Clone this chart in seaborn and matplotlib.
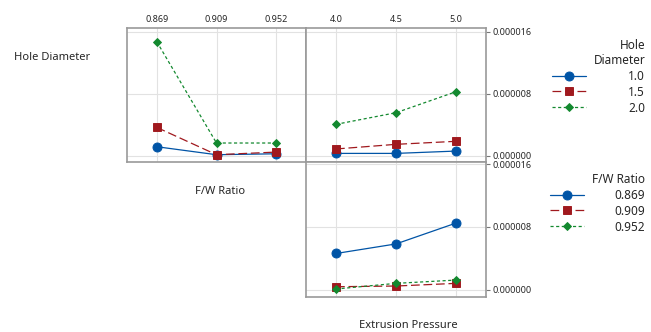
import numpy as np
import pandas as pd
import matplotlib
matplotlib.use("Agg")
import matplotlib.pyplot as plt
import seaborn as sns
from matplotlib.ticker import FixedLocator, FormatStrFormatter

# factor levels
fw_levels = ["0.869", "0.909", "0.952"]
pressure_levels = ["4.0", "4.5", "5.0"]
hole_levels = ["1.0", "1.5", "2.0"]

# fitted means (x 1e-6), rows follow the trace factor levels
hole_by_fw = [[1.16, 0.13, 0.25],
              [3.65, 0.13, 0.47],
              [14.7, 1.64, 1.64]]
hole_by_pressure = [[0.30, 0.30, 0.60],
                    [0.87, 1.47, 1.86],
                    [4.05, 5.55, 8.26]]
fw_by_pressure = [[4.62, 5.84, 8.50],
                  [0.38, 0.47, 0.81],
                  [0.09, 0.81, 1.23]]
y_ticks = [0.0, 8e-6, 16e-6]

colors = ["#0054A6", "#A0191E", "#13892F"]
markers = ["o", "s", "D"]
dashes = [None, (7, 3), (2.5, 2)]
msizes = [6.5, 6.0, 4.5]


def to_long(values, trace_levels, x_levels, trace_name, x_name):
    rows = []
    for lev, vals in zip(trace_levels, values):
        for xl, v in zip(x_levels, vals):
            rows.append({trace_name: lev, x_name: xl, "Mean": v * 1e-6})
    return pd.DataFrame(rows)


def draw(ax, df, x_name, trace_name, trace_levels, x_levels):
    sns.pointplot(data=df, x=x_name, y="Mean", hue=trace_name, order=x_levels,
                  hue_order=trace_levels, palette=colors, markers=markers,
                  errorbar=None, legend=False, ax=ax, linewidth=0.9)
    for i, line in enumerate(ax.lines[:3]):
        if dashes[i] is not None:
            line.set_dashes(dashes[i])
        line.set_markersize(msizes[i])
    ax.set_xlim(-0.5, 2.5)
    ax.set_xlabel("")
    ax.set_ylabel("")
    ax.yaxis.set_major_locator(FixedLocator(y_ticks))
    ax.grid(True, color="#e2e2e2", linewidth=0.8)
    ax.set_axisbelow(True)
    for s in ax.spines.values():
        s.set_color("#9a9a9a")
        s.set_linewidth(1.2)
    return ax.lines[:3]


sns.set_style("white")
plt.rcParams["font.family"] = ["Noto Sans", "DejaVu Sans"]

fig = plt.figure(figsize=(6.51, 3.32), dpi=100)
ax_tl = fig.add_axes([127 / 651, 1 - 162 / 332, 179 / 651, 134 / 332])
ax_tr = fig.add_axes([306 / 651, 1 - 162 / 332, 180 / 651, 134 / 332])
ax_br = fig.add_axes([306 / 651, 1 - 297 / 332, 180 / 651, 135 / 332])

h1 = draw(ax_tl, to_long(hole_by_fw, hole_levels, fw_levels, "Hole Diameter", "F/W Ratio"),
          "F/W Ratio", "Hole Diameter", hole_levels, fw_levels)
draw(ax_tr, to_long(hole_by_pressure, hole_levels, pressure_levels, "Hole Diameter", "Extrusion Pressure"),
     "Extrusion Pressure", "Hole Diameter", hole_levels, pressure_levels)
h2 = draw(ax_br, to_long(fw_by_pressure, fw_levels, pressure_levels, "F/W Ratio", "Extrusion Pressure"),
          "Extrusion Pressure", "F/W Ratio", fw_levels, pressure_levels)

for ax in (ax_tl, ax_tr):
    ax.set_ylim(-0.81e-6, 16.48e-6)
    ax.xaxis.tick_top()
    ax.tick_params(axis="x", length=0, labelsize=6.5, pad=3)
ax_br.set_ylim(-0.93e-6, 16.29e-6)
ax_br.tick_params(axis="x", length=0, labelbottom=False)

ax_tl.tick_params(axis="y", left=False, labelleft=False)
for ax in (ax_tr, ax_br):
    ax.yaxis.tick_right()
    ax.yaxis.set_major_formatter(FormatStrFormatter("%.6f"))
    ax.tick_params(axis="y", length=3, width=0.8, color="#777777", labelsize=6.5, pad=2)

fig.text(52 / 651, 1 - 58 / 332, "Hole Diameter", ha="center", va="center", fontsize=8)
fig.text(220 / 651, 1 - 191 / 332, "F/W Ratio", ha="center", va="center", fontsize=8)
fig.text(408 / 651, 1 - 325 / 332, "Extrusion Pressure", ha="center", va="center", fontsize=8)

for handles, levels, title, top, pad in ((h1, hole_levels, "Hole\nDiameter", 34, 3.6),
                                         (h2, fw_levels, "F/W Ratio", 168, 2.6)):
    leg = fig.legend(handles, levels, title=title, loc="upper right",
                     bbox_to_anchor=(650 / 651, 1 - top / 332), frameon=False,
                     fontsize=8.5, title_fontsize=8.5, handlelength=2.9,
                     handletextpad=pad, labelspacing=0.25, borderaxespad=0,
                     alignment="right")
    leg.get_title().set_multialignment("right")

fig.savefig("out.png", dpi=100)
